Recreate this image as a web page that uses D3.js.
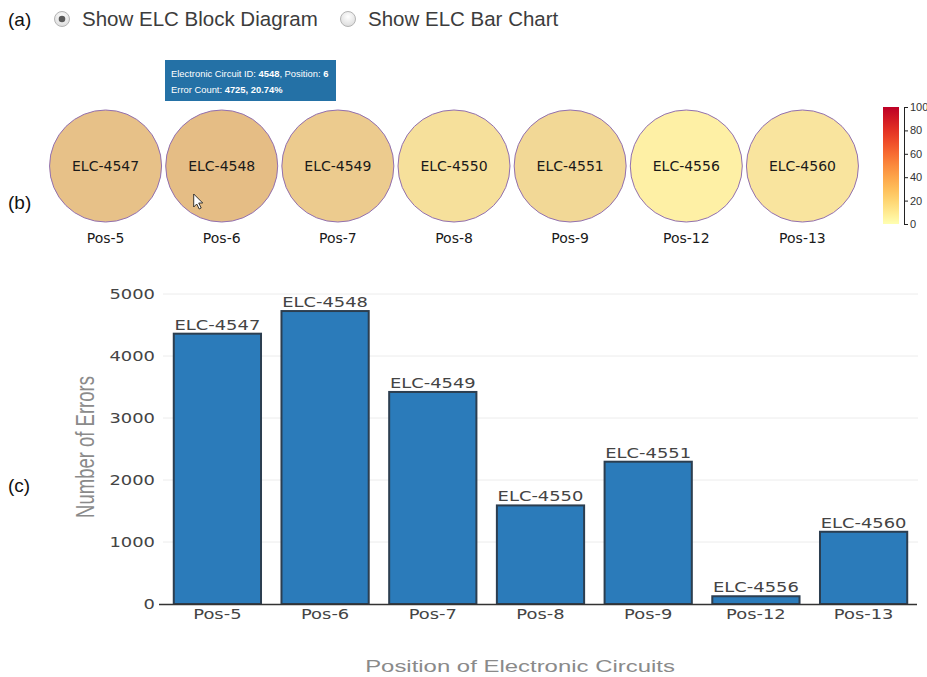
<!DOCTYPE html>
<html>
<head>
<meta charset="utf-8">
<script src="https://cdn.jsdelivr.net/npm/d3@7"></script>
<style>
  html, body { margin: 0; padding: 0; background: #fff; }
  svg { display: block; }
</style>
</head>
<body>
<svg id="view" width="927" height="677"></svg>
<script>
// Electronic circuits and their error counts
const circuitIds   = ["ELC-4547", "ELC-4548", "ELC-4549", "ELC-4550", "ELC-4551", "ELC-4556", "ELC-4560"];
const positions    = ["Pos-5", "Pos-6", "Pos-7", "Pos-8", "Pos-9", "Pos-12", "Pos-13"];
const errorCounts  = [4360, 4725, 3420, 1590, 2295, 125, 1165];
const totalErrors  = 22782;            // all circuits in the module
const yTicks       = [0, 1000, 2000, 3000, 4000, 5000];
const legendTicks  = [0, 20, 40, 60, 80, 100];

const rows = circuitIds.map((id, i) => ({
  id, pos: positions[i], count: errorCounts[i], pct: errorCounts[i] / totalErrors * 100
}));

const svg = d3.select("#view");
const sans = "'Liberation Sans', Arial, sans-serif";
const vera = "'DejaVu Sans', Verdana, sans-serif";

// ---- (a) view switch ----
svg.append("text").attr("x", 8).attr("y", 26).attr("font-family", sans)
  .attr("font-size", 19).attr("fill", "#111").text("(a)");
const defs = svg.append("defs");
const rg = defs.append("radialGradient").attr("id", "radioFill").attr("cx", "50%").attr("cy", "35%").attr("r", "65%");
rg.append("stop").attr("offset", "0%").attr("stop-color", "#ffffff");
rg.append("stop").attr("offset", "100%").attr("stop-color", "#dcdcdc");
const radios = [{x: 62, label: "Show ELC Block Diagram", on: true}, {x: 348, label: "Show ELC Bar Chart", on: false}];
radios.forEach(r => {
  svg.append("circle").attr("cx", r.x).attr("cy", 19).attr("r", 7.5)
    .attr("fill", "url(#radioFill)").attr("stroke", "#b4b4b4").attr("stroke-width", 1);
  if (r.on) svg.append("circle").attr("cx", r.x).attr("cy", 19).attr("r", 3.3).attr("fill", "#5a5a5a");
  svg.append("text").attr("x", r.x + 20).attr("y", 26).attr("font-family", sans)
    .attr("font-size", 20.5).attr("fill", "#3c3c3c").text(r.label);
});

// ---- (b) block diagram ----
svg.append("text").attr("x", 8).attr("y", 209).attr("font-family", sans)
  .attr("font-size", 19).attr("fill", "#111").text("(b)");

const xBlock = d3.scaleBand().domain(circuitIds).range([47.5, 860.5]);
const blockY = 166, blockR = 56;
const tint = d3.scaleLinear().domain([0, d3.max(rows, d => d.pct)]).range(["#fff1a6", "#e5bd85"]);

const blocks = svg.append("g").selectAll("g").data(rows).join("g")
  .attr("transform", d => `translate(${xBlock(d.id) + xBlock.bandwidth() / 2},0)`);
blocks.append("circle").attr("cy", blockY).attr("r", blockR)
  .attr("fill", d => tint(d.pct)).attr("stroke", "#9270b0").attr("stroke-width", 1);
blocks.append("text").attr("y", blockY + 5).attr("text-anchor", "middle")
  .attr("font-family", vera).attr("font-size", 14).attr("fill", "#1a1a1a").text(d => d.id);
blocks.append("text").attr("y", 243).attr("text-anchor", "middle")
  .attr("font-family", vera).attr("font-size", 14).attr("fill", "#1a1a1a").text(d => d.pos);

// pointer resting over the hovered circuit
const hovered = rows[1];
const hx = xBlock(hovered.id) + xBlock.bandwidth() / 2;
svg.append("path")
  .attr("d", "M0,0 L0,13 L3,10 L5.5,15 L7.5,14 L5,9 L9,9 Z")
  .attr("transform", `translate(${hx - 28},${blockY + 28})`)
  .attr("fill", "#fff").attr("stroke", "#222").attr("stroke-width", 0.9).attr("stroke-linejoin", "round");

// tooltip for the hovered circuit
const tip = svg.append("g").attr("transform", "translate(165,60)");
tip.append("rect").attr("width", 171).attr("height", 41).attr("fill", "#2471a6");
const t1 = tip.append("text").attr("x", 6).attr("y", 17).attr("font-family", sans)
  .attr("font-size", 9.4).attr("fill", "#fff");
t1.append("tspan").text("Electronic Circuit ID: ");
t1.append("tspan").attr("font-weight", "bold").text(hovered.id.replace("ELC-", ""));
t1.append("tspan").text(", Position: ");
t1.append("tspan").attr("font-weight", "bold").text(hovered.pos.replace("Pos-", ""));
const t2 = tip.append("text").attr("x", 6).attr("y", 33).attr("font-family", sans)
  .attr("font-size", 9.4).attr("fill", "#fff");
t2.append("tspan").text("Error Count: ");
t2.append("tspan").attr("font-weight", "bold").text(`${hovered.count}, ${hovered.pct.toFixed(2)}%`);

// colour legend
const lg = defs.append("linearGradient").attr("id", "heat").attr("x1", 0).attr("y1", 1).attr("x2", 0).attr("y2", 0);
const heat = d3.interpolateRgbBasis(["#ffffb2", "#fecc5c", "#fd8d3c", "#f03b20", "#bd0026"]);
d3.range(0, 1.0001, 0.1).forEach(t => lg.append("stop").attr("offset", t).attr("stop-color", heat(t)));
const yLegend = d3.scaleLinear().domain([0, 100]).range([224, 107]);
svg.append("rect").attr("x", 883).attr("y", yLegend(100)).attr("width", 16)
  .attr("height", yLegend(0) - yLegend(100)).attr("fill", "url(#heat)");
const legAxis = svg.append("g").attr("transform", "translate(904,0)")
  .call(d3.axisRight(yLegend).tickValues(legendTicks).tickSize(4).tickPadding(2));
legAxis.selectAll("path,line").attr("stroke", "#222");
legAxis.selectAll("text").attr("font-family", sans).attr("font-size", 11).attr("fill", "#333");

// ---- (c) bar chart ----
svg.append("text").attr("x", 8).attr("y", 492).attr("font-family", sans)
  .attr("font-size", 19).attr("fill", "#111").text("(c)");

const stretch = 1.28;  // wide-set glyphs of the chart labels
const x = d3.scaleBand().domain(positions).range([163, 918]).paddingInner(0.19).paddingOuter(0.1);
const y = d3.scaleLinear().domain([0, 5000]).range([604, 294]);

// gridlines
svg.append("g").selectAll("line").data(yTicks.filter(v => v > 0)).join("line")
  .attr("x1", 163).attr("x2", 918).attr("y1", d => y(d)).attr("y2", d => y(d))
  .attr("stroke", "#ececec").attr("stroke-width", 1);

// y tick labels
svg.append("g").selectAll("text").data(yTicks).join("text")
  .attr("transform", d => `translate(155,${y(d) + 5}) scale(${stretch},1)`)
  .attr("text-anchor", "end").attr("font-family", vera).attr("font-size", 14).attr("fill", "#444")
  .text(d => d);

// bars
svg.append("g").selectAll("rect").data(rows).join("rect")
  .attr("x", d => x(d.pos)).attr("width", x.bandwidth())
  .attr("y", d => y(d.count)).attr("height", d => y(0) - y(d.count))
  .attr("fill", "#2b7bba").attr("stroke", "#2c3e50").attr("stroke-width", 2);

// bar labels
svg.append("g").selectAll("text").data(rows).join("text")
  .attr("transform", d => `translate(${x(d.pos) + x.bandwidth() / 2},${y(d.count) - 4}) scale(${stretch},1)`)
  .attr("text-anchor", "middle").attr("font-family", vera).attr("font-size", 14).attr("fill", "#444")
  .text(d => d.id);

// x axis
const xAxis = svg.append("g").attr("transform", `translate(0,${y(0)})`)
  .call(d3.axisBottom(x).tickSize(0).tickPadding(0));
xAxis.select(".domain").attr("d", "M159,0.5H917").attr("stroke", "#333").attr("stroke-width", 1.5);
xAxis.selectAll(".tick text").remove();
xAxis.selectAll(".tick").append("text")
  .attr("transform", `translate(0,15) scale(${stretch},1)`)
  .attr("text-anchor", "middle").attr("font-family", vera).attr("font-size", 14).attr("fill", "#444")
  .text(d => d);

// axis titles
svg.append("text").attr("transform", "translate(520,672) scale(1.45,1)")
  .attr("text-anchor", "middle").attr("font-family", sans).attr("font-size", 16.5).attr("fill", "#8a8a8a")
  .text("Position of Electronic Circuits");
svg.append("text").attr("transform", "translate(94,447) scale(1.35,1) rotate(-90)")
  .attr("text-anchor", "middle").attr("font-family", sans).attr("font-size", 18.5).attr("fill", "#8a8a8a")
  .text("Number of Errors");
</script>
</body>
</html>
